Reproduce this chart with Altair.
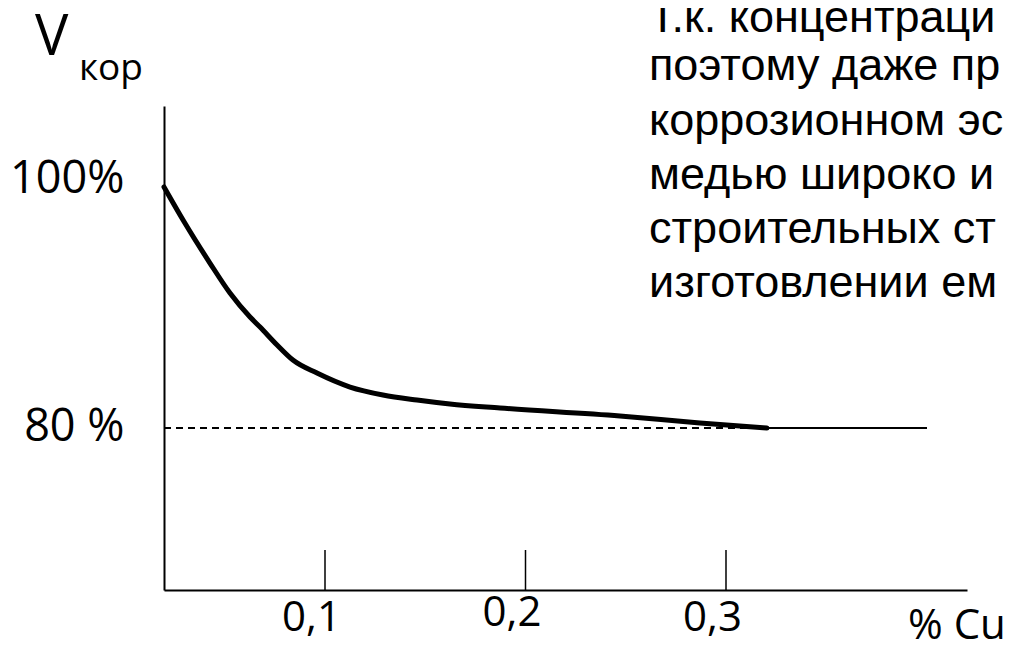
import altair as alt
import pandas as pd

# --- data ---
cu_pct = [0.0197, 0.0292, 0.0426, 0.0526, 0.0626, 0.0676, 0.0761, 0.0840, 0.0960,
          0.1125, 0.1289, 0.1459, 0.1623, 0.1873, 0.2471, 0.2870, 0.3204]
v_kor = [100.0, 97.26, 93.69, 91.20, 89.21, 88.38, 86.89, 85.64, 84.56,
         83.40, 82.74, 82.32, 81.99, 81.66, 81.00, 80.41, 80.0]
tick_values = [0.1, 0.2, 0.3]
tick_labels = ["0,1", "0,2", "0,3"]
y_values = [80, 100]
y_labels = ["80 %", "100%"]
level_value = 80
level_end = 0.4002
x_domain = [0.0197, 0.4202]
y_domain = [66.56, 106.72]
para_lines = [
    "Т.к. концентраци",
    "поэтому даже пр",
    "коррозионном эс",
    "медью широко и",
    "строительных ст",
    "изготовлении ем",
]

W, H = 803, 484
FONT = "Open Sans"

curve_df = pd.DataFrame({"cu": cu_pct, "v": v_kor})
ticks_df = pd.DataFrame({"cu": tick_values})


def lookup_expr(values, labels):
    expr = f"'{labels[-1]}'"
    for val, lab in reversed(list(zip(values[:-1], labels[:-1]))):
        expr = f"datum.value == {val} ? '{lab}' : " + expr
    return expr


xscale = alt.Scale(domain=x_domain, nice=False, zero=False)
yscale = alt.Scale(domain=y_domain, nice=False, zero=False)

x_axis = alt.Axis(
    values=tick_values,
    labelExpr=lookup_expr(tick_values, tick_labels),
    domainColor="black", domainWidth=2, ticks=False, grid=False,
    labelFont=FONT, labelFontSize=42, labelColor="black",
    labelOffset=-14,
    labelPadding={"condition": {"test": "datum.value == 0.2", "value": 2}, "value": 7},
    labelFlush=False, labelOverlap=False, title=None,
)
y_axis = alt.Axis(
    values=y_values,
    labelExpr=lookup_expr(y_values, y_labels),
    domainColor="black", domainWidth=2, ticks=False, grid=False,
    labelFont=FONT, labelFontSize=45, labelColor="black",
    labelPadding=40, labelBaseline="middle",
    labelOffset={"condition": {"test": "datum.value == 100", "value": -8}, "value": -2},
    labelFlush=False, labelOverlap=False, title=None,
)

dashed = alt.Chart(curve_df).mark_rule(color="black", strokeWidth=1.5, strokeDash=[7, 5]).encode(
    x=alt.datum(x_domain[0], scale=xscale),
    x2=alt.datum(cu_pct[-1]),
    y=alt.datum(level_value, scale=yscale),
)
solid = alt.Chart(curve_df).mark_rule(color="black", strokeWidth=1.5).encode(
    x=alt.datum(cu_pct[-1]),
    x2=alt.datum(level_end),
    y=alt.datum(level_value),
)
ticks = alt.Chart(ticks_df).mark_rule(color="black", strokeWidth=1.5).encode(
    x=alt.X("cu:Q"),
    y=alt.value(H - 40),
    y2=alt.value(H),
)
curve = alt.Chart(curve_df).mark_line(
    color="black", strokeWidth=5, interpolate="monotone", strokeCap="round"
).encode(
    x=alt.X("cu:Q", scale=xscale, axis=x_axis),
    y=alt.Y("v:Q", scale=yscale, axis=y_axis),
)

base_txt = alt.Chart(pd.DataFrame({"a": [0]}))
v_txt = base_txt.mark_text(font=FONT, fontSize=56, align="left", baseline="alphabetic", color="black").encode(
    x=alt.value(-129), y=alt.value(-51), text=alt.value("V"))
kor_txt = base_txt.mark_text(font=FONT, fontSize=37, align="left", baseline="alphabetic", color="black").encode(
    x=alt.value(-85), y=alt.value(-26), text=alt.value("кор"))
cu_txt = base_txt.mark_text(font=FONT, fontSize=42, align="left", baseline="alphabetic", color="black").encode(
    x=alt.value(744), y=alt.value(533), text=alt.value("% Cu"))
para_first = base_txt.mark_text(font="Liberation Sans", fontSize=45, align="left", baseline="alphabetic",
                                color="black").encode(
    x=alt.value(485), y=alt.value(-74), text=alt.value(para_lines[0]))
para_rest = base_txt.mark_text(font="Liberation Sans", fontSize=45, align="left", baseline="alphabetic",
                               color="black", lineHeight=54.3).encode(
    x=alt.value(485), y=alt.value(-25.7), text=alt.value(para_lines[1:]))

chart = alt.layer(dashed, solid, ticks, curve, v_txt, kor_txt, cu_txt, para_first, para_rest).properties(
    width=W, height=H,
    autosize=alt.AutoSizeParams(type="none"),
    padding={"left": 156, "top": 98, "right": 37, "bottom": 51},
    background="white",
).configure_view(stroke=None)

chart.save("out.html", embed_options={"renderer": "svg", "actions": False})
